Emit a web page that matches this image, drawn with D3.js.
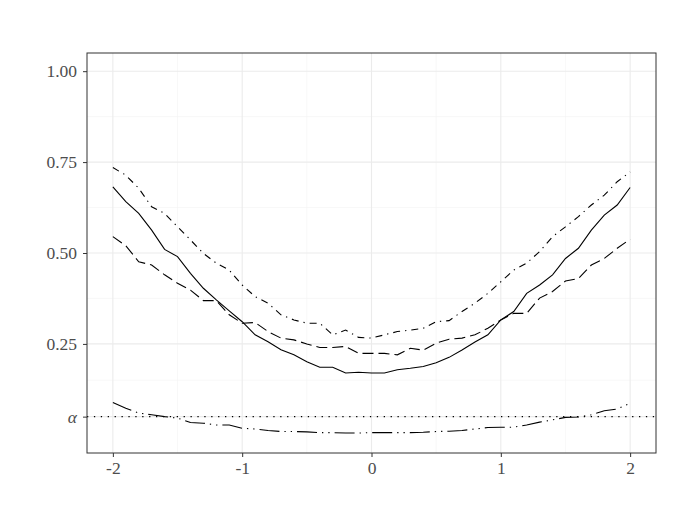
<!DOCTYPE html>
<html>
<head>
<meta charset="utf-8">
<script src="https://cdn.jsdelivr.net/npm/d3@7"></script>
<style>
  body { margin: 0; background: #fff; }
  svg { display: block; }
</style>
</head>
<body>
<svg id="chart" width="675" height="525"></svg>
<script>
const xs = d3.range(-20, 21).map(i => i / 10);

const solid = [0.682, 0.641, 0.609, 0.563, 0.510, 0.490, 0.444, 0.403, 0.371, 0.341, 0.311,
  0.275, 0.256, 0.234, 0.220, 0.201, 0.186, 0.186, 0.170, 0.172, 0.170,
  0.170, 0.179, 0.183, 0.188, 0.198, 0.213, 0.233, 0.255, 0.275, 0.316,
  0.339, 0.389, 0.412, 0.440, 0.485, 0.513, 0.563, 0.604, 0.632, 0.680];

const dashed = [0.545, 0.520, 0.476, 0.467, 0.440, 0.417, 0.398, 0.369, 0.369, 0.330, 0.307,
  0.309, 0.284, 0.266, 0.261, 0.250, 0.240, 0.240, 0.243, 0.224, 0.224,
  0.224, 0.220, 0.238, 0.233, 0.252, 0.263, 0.266, 0.275, 0.293, 0.316,
  0.334, 0.334, 0.376, 0.394, 0.423, 0.430, 0.467, 0.485, 0.513, 0.538];

const dotdash = [0.735, 0.714, 0.678, 0.627, 0.609, 0.572, 0.536, 0.499, 0.472, 0.453, 0.412,
  0.380, 0.362, 0.330, 0.316, 0.307, 0.307, 0.275, 0.288, 0.268, 0.266,
  0.275, 0.284, 0.288, 0.293, 0.311, 0.314, 0.339, 0.362, 0.389, 0.421,
  0.453, 0.472, 0.504, 0.545, 0.572, 0.600, 0.632, 0.659, 0.696, 0.723];

const size = [0.089, 0.073, 0.060, 0.055, 0.050, 0.046, 0.034, 0.032, 0.027, 0.027, 0.018,
  0.016, 0.012, 0.009, 0.009, 0.008, 0.006, 0.006, 0.005, 0.005, 0.006,
  0.006, 0.006, 0.006, 0.007, 0.009, 0.010, 0.012, 0.016, 0.020, 0.021,
  0.021, 0.027, 0.035, 0.041, 0.048, 0.049, 0.055, 0.066, 0.071, 0.087];

const alpha = 0.05;
const xTicks = [-2, -1, 0, 1, 2];
const xMinor = [-1.5, -0.5, 0.5, 1.5];
const yTicks = [alpha, 0.25, 0.5, 0.75, 1.0];
const yMinor = [0.15, 0.375, 0.625, 0.875];

const svg = d3.select("#chart");
const margin = { top: 53, right: 19, bottom: 72, left: 87 };
const width = 675, height = 525;
const innerWidth = width - margin.left - margin.right;
const innerHeight = height - margin.top - margin.bottom;

const g = svg.append("g")
  .attr("transform", `translate(${margin.left},${margin.top})`);

const x = d3.scaleLinear().domain([-2.2, 2.2]).range([0, innerWidth]);
const y = d3.scaleLinear().domain([-0.05, 1.05]).range([innerHeight, 0]);

// grid
g.selectAll(".minor-x").data(xMinor).enter().append("line")
  .attr("x1", d => x(d)).attr("x2", d => x(d))
  .attr("y1", 0).attr("y2", innerHeight)
  .attr("stroke", "#f3f3f3").attr("stroke-width", 0.6);
g.selectAll(".minor-y").data(yMinor).enter().append("line")
  .attr("y1", d => y(d)).attr("y2", d => y(d))
  .attr("x1", 0).attr("x2", innerWidth)
  .attr("stroke", "#f3f3f3").attr("stroke-width", 0.6);
g.selectAll(".major-x").data(xTicks).enter().append("line")
  .attr("x1", d => x(d)).attr("x2", d => x(d))
  .attr("y1", 0).attr("y2", innerHeight)
  .attr("stroke", "#ebebeb").attr("stroke-width", 1.1);
g.selectAll(".major-y").data(yTicks).enter().append("line")
  .attr("y1", d => y(d)).attr("y2", d => y(d))
  .attr("x1", 0).attr("x2", innerWidth)
  .attr("stroke", "#ebebeb").attr("stroke-width", 1.1);

// alpha reference line
g.append("line")
  .attr("x1", 0).attr("x2", innerWidth)
  .attr("y1", y(alpha)).attr("y2", y(alpha))
  .attr("stroke", "#000").attr("stroke-width", 1.3)
  .attr("stroke-dasharray", "1.3,5.6");

const line = d3.line()
  .x((d, i) => x(xs[i]))
  .y(d => y(d));

const series = [
  { values: solid, dash: null },
  { values: dashed, dash: "11,5" },
  { values: dotdash, dash: "7,5,1.3,5" },
  { values: size, dash: "20,5,1.3,5,1.3,5" }
];

g.selectAll(".series").data(series).enter().append("path")
  .attr("fill", "none")
  .attr("stroke", "#000")
  .attr("stroke-width", 1.1)
  .attr("stroke-dasharray", d => d.dash)
  .attr("d", d => line(d.values));

// panel border
g.append("rect")
  .attr("width", innerWidth).attr("height", innerHeight)
  .attr("fill", "none").attr("stroke", "#333").attr("stroke-width", 1);

// axes
const xAxis = g.append("g")
  .attr("transform", `translate(0,${innerHeight})`)
  .call(d3.axisBottom(x).tickValues(xTicks).tickSize(4).tickPadding(5)
    .tickFormat(d => d3.format("d")(d).replace("−", "-")));
const yAxis = g.append("g")
  .call(d3.axisLeft(y).tickValues(yTicks).tickSize(4).tickPadding(6)
    .tickFormat(d => d === alpha ? "α" : d3.format(".2f")(d)));

[xAxis, yAxis].forEach(a => {
  a.attr("font-family", "Liberation Serif, serif").attr("font-size", 17.5);
  a.select(".domain").remove();
  a.selectAll(".tick line").attr("stroke", "#333").attr("stroke-width", 1);
  a.selectAll(".tick text").attr("fill", "#4d4d4d");
});
yAxis.selectAll(".tick text").filter(d => d === alpha).attr("font-style", "italic");
</script>
</body>
</html>
